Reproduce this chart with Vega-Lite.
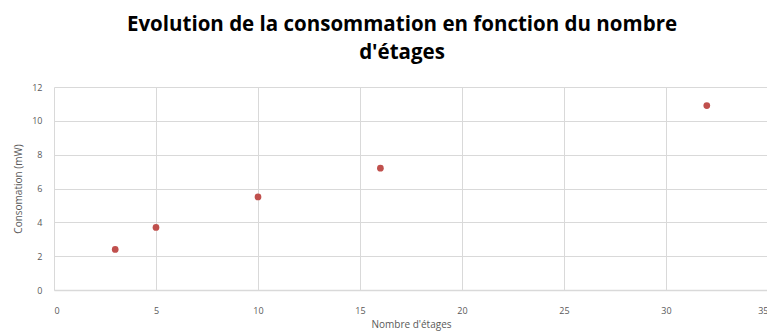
{
  "$schema": "https://vega.github.io/schema/vega-lite/v6.json",
  "autosize": {"type": "none"},
  "padding": {"left": 54, "top": 87, "right": 0, "bottom": 44},
  "width": 714,
  "height": 203,
  "background": "white",
  "title": {
    "text": ["Evolution de la consommation en fonction du nombre", "d'étages"],
    "font": "Open Sans",
    "fontSize": 20.5,
    "fontWeight": "bold",
    "color": "#000000",
    "lineHeight": 28,
    "anchor": "middle",
    "dx": -9,
    "offset": 20
  },
  "data": {
    "values": [
      {"etages": 3, "conso": 2.4},
      {"etages": 5, "conso": 3.7},
      {"etages": 10, "conso": 5.5},
      {"etages": 16, "conso": 7.2},
      {"etages": 32, "conso": 10.9}
    ]
  },
  "mark": {"type": "point", "filled": true, "shape": "circle", "size": 45, "color": "#C0504D", "opacity": 1},
  "encoding": {
    "x": {
      "field": "etages", "type": "quantitative",
      "scale": {"domain": [0, 35], "nice": false},
      "axis": {
        "title": "Nombre d'étages",
        "values": [0, 5, 10, 15, 20, 25, 30, 35],
        "grid": true, "gridColor": "#D9D9D9",
        "domainColor": "#D9D9D9", "domainWidth": 1.5,
        "ticks": false, "labelPadding": 16,
        "labelFont": "Open Sans", "labelFontSize": 9, "labelColor": "#595959",
        "titleFont": "Open Sans", "titleFontSize": 10, "titleFontWeight": "normal", "titleColor": "#595959",
        "titlePadding": 4
      }
    },
    "y": {
      "field": "conso", "type": "quantitative",
      "scale": {"domain": [0, 12], "nice": false},
      "axis": {
        "title": "Consomation (mW)",
        "values": [0, 2, 4, 6, 8, 10, 12],
        "grid": true, "gridColor": "#D9D9D9",
        "domain": false,
        "ticks": false, "labelPadding": 12,
        "labelFont": "Open Sans", "labelFontSize": 9, "labelColor": "#595959",
        "titleFont": "Open Sans", "titleFontSize": 10, "titleFontWeight": "normal", "titleColor": "#595959",
        "titlePadding": 8
      }
    }
  },
  "config": {"view": {"stroke": null}}
}
